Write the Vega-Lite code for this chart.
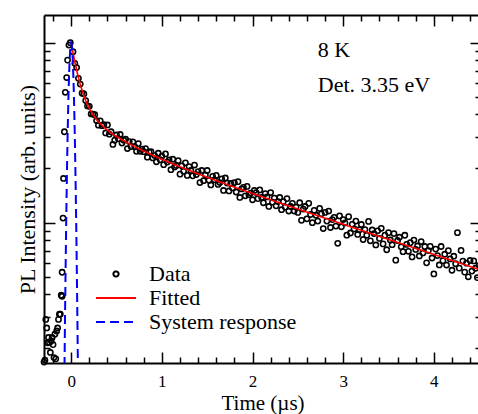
{
  "$schema": "https://vega.github.io/schema/vega-lite/v6.json",
  "width": 437,
  "height": 348,
  "autosize": {"type": "none"},
  "padding": {"left": 44, "top": 15, "right": 0, "bottom": 51},
  "background": "white",
  "config": {
    "view": {"stroke": null},
    "font": "Liberation Serif",
    "axis": {
      "grid": false,
      "domainColor": "black",
      "domainWidth": 2,
      "tickColor": "black",
      "tickWidth": 1.5,
      "labelFont": "Liberation Serif",
      "titleFont": "Liberation Serif",
      "titleFontWeight": "normal",
      "titleColor": "black",
      "labelColor": "black"
    },
    "legend": {
      "orient": "none", "legendX": 51, "legendY": 248, "title": null,
      "labelFont": "Liberation Serif", "labelFontSize": 22, "labelColor": "black",
      "labelOffset": 12, "rowPadding": 2, "clipHeight": 22, "symbolStrokeWidth": 2, "symbolFillColor": "transparent"
    }
  },
  "resolve": {"axis": {"x": "independent", "y": "independent"}},
  "layer": [
    {
      "data": {"values": [
        {"t":-0.3,"v":0.0168},{"t":-0.29,"v":0.0172},{"t":-0.28,"v":0.029},{"t":-0.27,"v":0.026},{"t":-0.26,"v":0.0215},{"t":-0.25,"v":0.023},{"t":-0.24,"v":0.0216},{"t":-0.23,"v":0.019},{"t":-0.22,"v":0.022},{"t":-0.21,"v":0.023},{"t":-0.2,"v":0.021},{"t":-0.19,"v":0.0178},{"t":-0.18,"v":0.024},{"t":-0.17,"v":0.0175},{"t":-0.16,"v":0.025},{"t":-0.15,"v":0.026},{"t":-0.14,"v":0.029},{"t":-0.13,"v":0.031},
        {"t":-0.12,"v":0.031},{"t":-0.11,"v":0.0395},{"t":-0.1,"v":0.053},{"t":-0.1,"v":0.039},{"t":-0.09,"v":0.106},{"t":-0.085,"v":0.176},{"t":-0.075,"v":0.32},{"t":-0.065,"v":0.53},{"t":-0.05,"v":0.64},{"t":-0.04,"v":0.8},{"t":-0.025,"v":0.97},{"t":-0.01,"v":1.0},
        {"t":0.02,"v":0.891},{"t":0.04,"v":0.768},{"t":0.06,"v":0.727},{"t":0.08,"v":0.634},{"t":0.1,"v":0.589},{"t":0.12,"v":0.524},{"t":0.14,"v":0.519},{"t":0.16,"v":0.477},{"t":0.18,"v":0.445},{"t":0.2,"v":0.443},{"t":0.22,"v":0.402},{"t":0.24,"v":0.401},{"t":0.26,"v":0.398},{"t":0.28,"v":0.369},
        {"t":0.3,"v":0.348},{"t":0.32,"v":0.368},{"t":0.34,"v":0.346},{"t":0.36,"v":0.35},{"t":0.38,"v":0.315},{"t":0.4,"v":0.349},{"t":0.42,"v":0.31},{"t":0.44,"v":0.32},{"t":0.46,"v":0.272},{"t":0.48,"v":0.287},{"t":0.5,"v":0.307},{"t":0.52,"v":0.293},{"t":0.54,"v":0.309},{"t":0.56,"v":0.277},{"t":0.58,"v":0.287},{"t":0.6,"v":0.291},{"t":0.62,"v":0.258},{"t":0.64,"v":0.282},{"t":0.66,"v":0.265},{"t":0.68,"v":0.281},{"t":0.7,"v":0.264},{"t":0.72,"v":0.249},{"t":0.74,"v":0.275},{"t":0.76,"v":0.249},{"t":0.78,"v":0.256},{"t":0.8,"v":0.248},{"t":0.82,"v":0.258},{"t":0.84,"v":0.231},{"t":0.86,"v":0.247},{"t":0.88,"v":0.248},{"t":0.9,"v":0.229},{"t":0.92,"v":0.236},{"t":0.94,"v":0.218},{"t":0.96,"v":0.243},{"t":0.98,"v":0.224},
        {"t":1.0,"v":0.234},{"t":1.02,"v":0.21},{"t":1.04,"v":0.241},{"t":1.06,"v":0.217},{"t":1.08,"v":0.223},{"t":1.1,"v":0.197},{"t":1.12,"v":0.225},{"t":1.14,"v":0.204},{"t":1.16,"v":0.208},{"t":1.18,"v":0.221},{"t":1.2,"v":0.186},{"t":1.22,"v":0.207},{"t":1.24,"v":0.193},{"t":1.26,"v":0.215},{"t":1.28,"v":0.183},{"t":1.3,"v":0.205},{"t":1.32,"v":0.195},{"t":1.34,"v":0.182},{"t":1.36,"v":0.209},{"t":1.38,"v":0.185},{"t":1.4,"v":0.192},{"t":1.42,"v":0.167},{"t":1.44,"v":0.195},{"t":1.46,"v":0.171},{"t":1.48,"v":0.184},{"t":1.5,"v":0.195},{"t":1.52,"v":0.172},{"t":1.54,"v":0.162},{"t":1.56,"v":0.181},{"t":1.58,"v":0.173},{"t":1.6,"v":0.183},{"t":1.62,"v":0.163},{"t":1.64,"v":0.167},{"t":1.66,"v":0.175},{"t":1.68,"v":0.151},{"t":1.7,"v":0.177},{"t":1.72,"v":0.166},{"t":1.74,"v":0.15},{"t":1.76,"v":0.165},{"t":1.78,"v":0.156},{"t":1.8,"v":0.167},{"t":1.82,"v":0.148},{"t":1.84,"v":0.169},{"t":1.86,"v":0.138},{"t":1.88,"v":0.154},{"t":1.9,"v":0.157},{"t":1.92,"v":0.141},{"t":1.94,"v":0.159},{"t":1.96,"v":0.143},{"t":1.98,"v":0.146},
        {"t":2.0,"v":0.134},{"t":2.02,"v":0.151},{"t":2.04,"v":0.147},{"t":2.06,"v":0.136},{"t":2.08,"v":0.152},{"t":2.1,"v":0.138},{"t":2.12,"v":0.129},{"t":2.14,"v":0.145},{"t":2.16,"v":0.139},{"t":2.18,"v":0.123},{"t":2.2,"v":0.147},{"t":2.22,"v":0.13},{"t":2.24,"v":0.137},{"t":2.26,"v":0.124},{"t":2.28,"v":0.131},{"t":2.3,"v":0.138},{"t":2.32,"v":0.118},{"t":2.34,"v":0.131},{"t":2.36,"v":0.122},{"t":2.38,"v":0.136},{"t":2.4,"v":0.116},{"t":2.42,"v":0.123},{"t":2.44,"v":0.128},{"t":2.46,"v":0.116},{"t":2.48,"v":0.122},
        {"t":2.5,"v":0.114},{"t":2.52,"v":0.129},{"t":2.54,"v":0.103},{"t":2.56,"v":0.119},{"t":2.58,"v":0.123},{"t":2.6,"v":0.105},{"t":2.62,"v":0.128},{"t":2.64,"v":0.111},{"t":2.66,"v":0.1},{"t":2.68,"v":0.117},{"t":2.7,"v":0.11},{"t":2.72,"v":0.102},{"t":2.74,"v":0.12},{"t":2.76,"v":0.112},{"t":2.78,"v":0.0927},{"t":2.8,"v":0.114},{"t":2.82,"v":0.102},{"t":2.84,"v":0.116},{"t":2.86,"v":0.094},{"t":2.88,"v":0.104},{"t":2.9,"v":0.107},{"t":2.92,"v":0.0957},{"t":2.94,"v":0.0768},{"t":2.96,"v":0.109},{"t":2.98,"v":0.0949},
        {"t":3.0,"v":0.104},{"t":3.02,"v":0.0997},{"t":3.04,"v":0.0852},{"t":3.06,"v":0.108},{"t":3.08,"v":0.0876},{"t":3.1,"v":0.0979},{"t":3.12,"v":0.0923},{"t":3.14,"v":0.102},{"t":3.16,"v":0.086},{"t":3.18,"v":0.0913},{"t":3.2,"v":0.0977},{"t":3.22,"v":0.0806},{"t":3.24,"v":0.0915},{"t":3.26,"v":0.0851},{"t":3.28,"v":0.1016},{"t":3.3,"v":0.0793},{"t":3.32,"v":0.091},{"t":3.34,"v":0.087},{"t":3.36,"v":0.0752},{"t":3.38,"v":0.0901},{"t":3.4,"v":0.0817},{"t":3.42,"v":0.093},{"t":3.44,"v":0.0762},{"t":3.46,"v":0.0852},{"t":3.48,"v":0.0707},
        {"t":3.5,"v":0.088},{"t":3.52,"v":0.0801},{"t":3.54,"v":0.0754},{"t":3.56,"v":0.087},{"t":3.58,"v":0.0619},{"t":3.6,"v":0.0796},{"t":3.62,"v":0.083},{"t":3.64,"v":0.0734},{"t":3.66,"v":0.069},{"t":3.68,"v":0.0851},{"t":3.7,"v":0.0757},{"t":3.72,"v":0.0693},{"t":3.74,"v":0.0774},{"t":3.76,"v":0.0645},{"t":3.78,"v":0.08},{"t":3.8,"v":0.071},{"t":3.82,"v":0.0742},{"t":3.84,"v":0.0653},{"t":3.86,"v":0.0785},{"t":3.88,"v":0.0679},{"t":3.9,"v":0.0737},{"t":3.92,"v":0.0598},{"t":3.94,"v":0.07},{"t":3.96,"v":0.0738},{"t":3.98,"v":0.0636},
        {"t":4.0,"v":0.0519},{"t":4.02,"v":0.0713},{"t":4.04,"v":0.0656},{"t":4.06,"v":0.0582},{"t":4.08,"v":0.0737},{"t":4.1,"v":0.0615},{"t":4.12,"v":0.0668},{"t":4.14,"v":0.0581},{"t":4.16,"v":0.0699},{"t":4.18,"v":0.0629},{"t":4.2,"v":0.0544},{"t":4.22,"v":0.0651},{"t":4.24,"v":0.0591},{"t":4.26,"v":0.088},{"t":4.28,"v":0.0559},{"t":4.3,"v":0.0701},{"t":4.32,"v":0.0612},{"t":4.34,"v":0.0531},{"t":4.36,"v":0.0595},{"t":4.38,"v":0.05},{"t":4.4,"v":0.0616},{"t":4.42,"v":0.0538},{"t":4.44,"v":0.0613},{"t":4.46,"v":0.0558},{"t":4.48,"v":0.0495},{"t":4.5,"v":0.0578}
      ]},
      "mark": {"type": "point", "filled": false, "strokeWidth": 1.6, "opacity": 1},
      "encoding": {
        "x": {"field": "t", "type": "quantitative",
          "scale": {"domain": [-0.3, 4.52], "nice": false, "zero": false},
          "axis": {"orient": "bottom",
            "values": [-0.2,0,0.2,0.4,0.6,0.8,1,1.2,1.4,1.6,1.8,2,2.2,2.4,2.6,2.8,3,3.2,3.4,3.6,3.8,4,4.2,4.4],
            "tickSize": {"condition": {"test": "abs(datum.value - round(datum.value)) < 0.01", "value": -11}, "value": -6},
            "labelExpr": "abs(datum.value - round(datum.value)) < 0.01 ? format(round(datum.value), 'd') : ''",
            "labelFontSize": 17, "labelPadding": 21, "labelFlush": false, "labelOverlap": false,
            "title": "Time (µs)", "titleFontSize": 21, "titlePadding": -2}},
        "y": {"field": "v", "type": "quantitative",
          "scale": {"type": "log", "domain": [0.0166, 1.425], "nice": false},
          "axis": {"orient": "left",
            "values": [0.02,0.03,0.04,0.05,0.06,0.07,0.08,0.09,0.1,0.2,0.3,0.4,0.5,0.6,0.7,0.8,0.9,1],
            "tickSize": {"condition": {"test": "datum.value === 1 || datum.value === 0.1", "value": -11}, "value": -6},
            "labels": false,
            "title": "PL Intensity (arb. units)", "titleFontSize": 22, "titlePadding": 4}},
        "color": {"datum": "Data", "type": "nominal",
          "scale": {"domain": ["Data", "Fitted", "System response"], "range": ["black", "#ff0000", "#0000ff"]}},
        "shape": {"datum": "Data", "type": "nominal",
          "scale": {"domain": ["Data", "Fitted", "System response"], "range": ["circle", "stroke", "stroke"]}},
        "size": {"datum": "Data", "type": "nominal",
          "scale": {"type": "ordinal", "domain": ["Data", "Fitted", "System response"], "range": [27, 1600, 1600]}}
      }
    },
    {
      "data": {"values": [
        {"t":0,"v":1.0},{"t":0.02,"v":0.8805},{"t":0.04,"v":0.7833},{"t":0.06,"v":0.704},{"t":0.08,"v":0.6396},{"t":0.1,"v":0.5866},{"t":0.12,"v":0.5432},{"t":0.14,"v":0.5072},{"t":0.16,"v":0.4772},{"t":0.18,"v":0.4522},{"t":0.2,"v":0.4311},{"t":0.24,"v":0.3979},{"t":0.28,"v":0.373},{"t":0.3,"v":0.3629},{"t":0.4,"v":0.3258},{"t":0.5,"v":0.3008},{"t":0.6,"v":0.2811},{"t":0.7,"v":0.2644},{"t":0.8,"v":0.2499},{"t":0.9,"v":0.2369},{"t":1.0,"v":0.2251},{"t":1.2,"v":0.2044},{"t":1.4,"v":0.1867},{"t":1.6,"v":0.1712},{"t":1.8,"v":0.1575},{"t":2.0,"v":0.1452},{"t":2.25,"v":0.1314},{"t":2.5,"v":0.119},{"t":3.0,"v":0.098},{"t":3.5,"v":0.0807},{"t":4.0,"v":0.0666},{"t":4.52,"v":0.0545}
      ]},
      "mark": {"type": "line", "strokeWidth": 1.6, "clip": true},
      "encoding": {
        "x": {"field": "t", "type": "quantitative",
          "axis": {"orient": "top",
            "values": [-0.2,0,0.2,0.4,0.6,0.8,1,1.2,1.4,1.6,1.8,2,2.2,2.4,2.6,2.8,3,3.2,3.4,3.6,3.8,4,4.2,4.4],
            "tickSize": {"condition": {"test": "abs(datum.value - round(datum.value)) < 0.01", "value": -11}, "value": -6},
            "labels": false, "title": null}},
        "y": {"field": "v", "type": "quantitative",
          "axis": {"orient": "right",
            "values": [0.02,0.03,0.04,0.05,0.06,0.07,0.08,0.09,0.1,0.2,0.3,0.4,0.5,0.6,0.7,0.8,0.9,1],
            "tickSize": {"condition": {"test": "datum.value === 1 || datum.value === 0.1", "value": -11}, "value": -6},
            "labels": false, "title": null}},
        "color": {"datum": "Fitted", "type": "nominal"},
        "strokeDash": {"datum": "Fitted", "type": "nominal",
          "scale": {"domain": ["Data", "Fitted", "System response"], "range": [[1, 0], [1, 0], [9, 5]]}}
      }
    },
    {
      "data": {"values": [
        {"t":-0.08,"v":0.0078},{"t":-0.075,"v":0.0141},{"t":-0.07,"v":0.0244},{"t":-0.065,"v":0.0407},{"t":-0.06,"v":0.0654},{"t":-0.055,"v":0.101},{"t":-0.05,"v":0.15},{"t":-0.045,"v":0.216},{"t":-0.04,"v":0.298},{"t":-0.035,"v":0.395},{"t":-0.03,"v":0.506},{"t":-0.025,"v":0.623},{"t":-0.02,"v":0.739},{"t":-0.015,"v":0.843},{"t":-0.01,"v":0.927},{"t":-0.005,"v":0.981},{"t":0,"v":1.0},
        {"t":0.005,"v":0.981},{"t":0.01,"v":0.927},{"t":0.015,"v":0.843},{"t":0.02,"v":0.739},{"t":0.025,"v":0.623},{"t":0.03,"v":0.506},{"t":0.035,"v":0.395},{"t":0.04,"v":0.298},{"t":0.045,"v":0.216},{"t":0.05,"v":0.15},{"t":0.055,"v":0.101},{"t":0.06,"v":0.0654},{"t":0.065,"v":0.0407},{"t":0.07,"v":0.0244},{"t":0.075,"v":0.0141},{"t":0.08,"v":0.0078}
      ]},
      "mark": {"type": "line", "strokeWidth": 2, "clip": true},
      "encoding": {
        "x": {"field": "t", "type": "quantitative", "axis": null},
        "y": {"field": "v", "type": "quantitative", "axis": null},
        "color": {"datum": "System response", "type": "nominal"},
        "strokeDash": {"datum": "System response", "type": "nominal"}
      }
    },
    {
      "data": {"values": [{}]},
      "mark": {"type": "text", "font": "Liberation Serif", "fontSize": 22, "align": "left", "baseline": "alphabetic", "color": "black"},
      "encoding": {
        "x": {"datum": 2.72, "type": "quantitative", "axis": null},
        "y": {"datum": 0.833, "type": "quantitative", "axis": null},
        "text": {"value": "8 K"}
      }
    },
    {
      "data": {"values": [{}]},
      "mark": {"type": "text", "font": "Liberation Serif", "fontSize": 22, "align": "left", "baseline": "alphabetic", "color": "black"},
      "encoding": {
        "x": {"datum": 2.72, "type": "quantitative", "axis": null},
        "y": {"datum": 0.532, "type": "quantitative", "axis": null},
        "text": {"value": "Det. 3.35 eV"}
      }
    }
  ]
}
